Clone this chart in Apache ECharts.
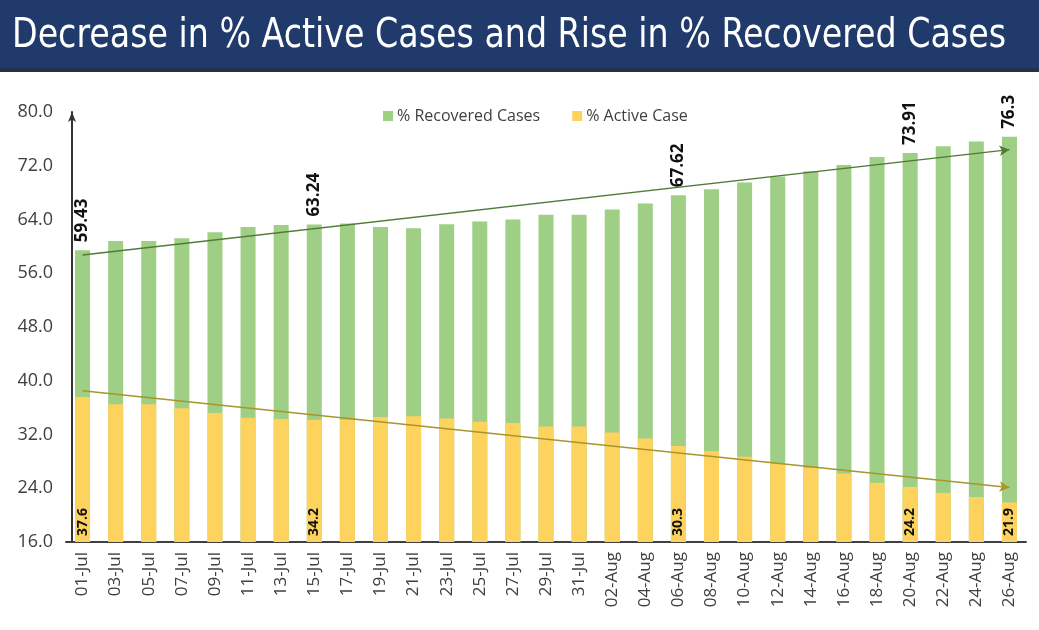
<!DOCTYPE html>
<html>
<head>
    <meta charset="utf-8">
    <title>Active vs Recovered</title>
    <script src="https://cdn.jsdelivr.net/npm/echarts@6/dist/echarts.min.js"></script>
    <style>
        body { margin: 0; background: #fff; }
    </style>
</head>
<body>

<div id="chart" style="width: 1039px;height:630px;"></div>

<script type="text/javascript">
    var titleText = 'Decrease in % Active Cases and Rise in % Recovered Cases';

    var days = ['01-Jul', '03-Jul', '05-Jul', '07-Jul', '09-Jul', '11-Jul', '13-Jul', '15-Jul',
        '17-Jul', '19-Jul', '21-Jul', '23-Jul', '25-Jul', '27-Jul', '29-Jul', '31-Jul',
        '02-Aug', '04-Aug', '06-Aug', '08-Aug', '10-Aug', '12-Aug', '14-Aug', '16-Aug',
        '18-Aug', '20-Aug', '22-Aug', '24-Aug', '26-Aug'];

    var recovered = [59.43, 60.8, 60.8, 61.2, 62.1, 62.9, 63.2, 63.24,
        63.4, 62.9, 62.7, 63.3, 63.7, 64.0, 64.7, 64.7,
        65.5, 66.4, 67.62, 68.5, 69.5, 70.4, 71.2, 72.1,
        73.3, 73.91, 74.9, 75.6, 76.3];

    var active = [37.6, 36.5, 36.5, 35.9, 35.2, 34.5, 34.3, 34.2,
        34.2, 34.6, 34.7, 34.4, 33.9, 33.7, 33.2, 33.2,
        32.3, 31.4, 30.3, 29.5, 28.7, 27.7, 27.0, 26.2,
        24.8, 24.2, 23.3, 22.7, 21.9];

    // bars that carry a value label
    var labelled = [0, 7, 18, 25, 28];

    // trend arrows: start / end values
    var recTrend = [58.7, 74.4];
    var actTrend = [38.5, 24.1];

    var yMin = 16, yMax = 80, yStep = 8;

    function withLabels(arr) {
        return arr.map(function (v, i) {
            return labelled.indexOf(i) >= 0 ? {value: v, label: {show: true}} : v;
        });
    }

    // squeeze the title into the banner width (no Gill Sans here)
    var titleFont = '41px "DejaVu Sans Condensed", "Open Sans", sans-serif';
    var ctx = document.createElement('canvas').getContext('2d');
    ctx.font = titleFont;
    var titleScale = 994 / ctx.measureText(titleText).width;

    var chart = echarts.init(document.getElementById('chart'));

    chart.setOption({
        animation: false,
        graphic: [
            {
                type: 'rect',
                left: 0, top: 0,
                shape: {width: 1039, height: 71},
                style: {fill: '#1f3a6b'},
                z: 0
            },
            {
                type: 'rect',
                left: 0, top: 68,
                shape: {width: 1039, height: 4},
                style: {fill: '#2a2f45'},
                z: 0
            },
            {
                type: 'text',
                x: 12, y: 16,
                scaleX: titleScale,
                style: {
                    text: titleText,
                    fill: '#ffffff',
                    font: titleFont
                },
                z: 1
            }
        ],
        legend: {
            top: 103,
            left: 378,
            itemWidth: 10,
            itemHeight: 10,
            itemGap: 32,
            icon: 'rect',
            textStyle: {
                fontFamily: 'Open Sans',
                fontSize: 16,
                color: '#404040',
                padding: [0, 0, 0, -1]
            },
            data: ['% Recovered Cases', '% Active Case']
        },
        grid: {
            left: 66,
            right: 13,
            top: 112,
            bottom: 88,
            containLabel: false
        },
        xAxis: {
            type: 'category',
            data: days,
            axisTick: {show: false},
            axisLine: {lineStyle: {color: '#404040', width: 2}},
            axisLabel: {
                rotate: 90,
                fontFamily: 'Open Sans',
                fontSize: 17,
                color: '#404040',
                margin: 10
            }
        },
        yAxis: {
            type: 'value',
            min: yMin,
            max: yMax,
            interval: yStep,
            offset: -6,
            splitLine: {show: false},
            axisTick: {show: false},
            axisLine: {
                show: true,
                symbol: ['none', 'arrow'],
                symbolSize: [6, 10],
                lineStyle: {color: '#333333', width: 2}
            },
            axisLabel: {
                fontFamily: 'Open Sans',
                fontSize: 18,
                color: '#404040',
                margin: 19,
                formatter: function (v) { return v.toFixed(1); }
            }
        },
        series: [
            {
                name: '% Recovered Cases',
                type: 'bar',
                barWidth: 15,
                barGap: '-100%',
                itemStyle: {color: '#9ecf84'},
                label: {
                    show: false,
                    position: 'top',
                    rotate: 90,
                    align: 'left',
                    verticalAlign: 'middle',
                    distance: 8,
                    fontFamily: 'Open Sans',
                    fontWeight: 'bold',
                    fontSize: 17,
                    color: '#111'
                },
                data: withLabels(recovered),
                markLine: {
                    silent: true,
                    symbol: ['none', 'arrow'],
                    symbolSize: [8, 10],
                    label: {show: false},
                    lineStyle: {color: '#4f7a38', width: 1.5, type: 'solid'},
                    data: [[
                        {coord: [days[0], recTrend[0]]},
                        {coord: [days[days.length - 1], recTrend[1]]}
                    ]]
                }
            },
            {
                name: '% Active Case',
                type: 'bar',
                barWidth: 15,
                barGap: '-100%',
                itemStyle: {color: '#fdd35e'},
                label: {
                    show: false,
                    position: 'insideBottom',
                    rotate: 90,
                    align: 'left',
                    verticalAlign: 'middle',
                    distance: 6,
                    fontFamily: 'Open Sans',
                    fontWeight: 'bold',
                    fontSize: 14,
                    color: '#111'
                },
                data: withLabels(active),
                markLine: {
                    silent: true,
                    symbol: ['none', 'arrow'],
                    symbolSize: [8, 10],
                    label: {show: false},
                    lineStyle: {color: '#a8952e', width: 1.5, type: 'solid'},
                    data: [[
                        {coord: [days[0], actTrend[0]]},
                        {coord: [days[days.length - 1], actTrend[1]]}
                    ]]
                }
            }
        ]
    });
</script>
</body>
</html>
